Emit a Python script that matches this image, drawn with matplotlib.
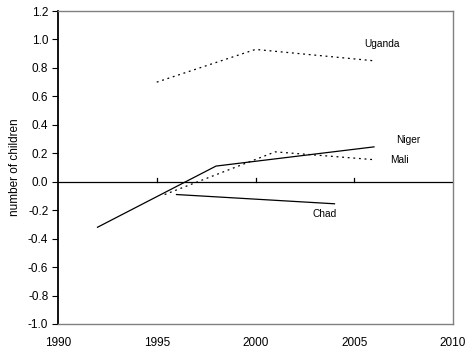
import matplotlib.pyplot as plt

plt.rcParams['font.family'] = ['Liberation Sans', 'DejaVu Sans']

uganda_x = [1995, 2000, 2006]
uganda_y = [0.70, 0.93, 0.85]
niger_x = [1992, 1998, 2006]
niger_y = [-0.32, 0.11, 0.245]
mali_x = [1995.4, 2001, 2006]
mali_y = [-0.09, 0.21, 0.155]
chad_x = [1996, 2004]
chad_y = [-0.09, -0.155]

fig = plt.figure(figsize=(4.66, 3.51), dpi=100)
ax = fig.add_axes([58 / 466, 1 - 324 / 351, 395 / 466, 313 / 351])

ax.plot(uganda_x, uganda_y, color='black', lw=0.9, ls=(0, (1.5, 3)))
ax.plot(niger_x, niger_y, color='black', lw=0.9)
ax.plot(mali_x, mali_y, color='black', lw=0.9, ls=(0, (1.5, 3)))
ax.plot(chad_x, chad_y, color='black', lw=0.9)

ax.text(2005.5, 0.97, 'Uganda', fontsize=7.3, va='center')
ax.text(2007.1, 0.29, 'Niger', fontsize=7.3, va='center')
ax.text(2006.8, 0.15, 'Mali', fontsize=7.3, va='center')
ax.text(2002.9, -0.225, 'Chad', fontsize=7.3, va='center')

# zero line with ticks pointing up
ax.axhline(0, color='black', lw=0.9)
for yr in [1995, 2000, 2005]:
    ax.plot([yr, yr], [0, 0.025], color='black', lw=0.9)

ax.set_xlim(1990, 2010)
ax.set_ylim(-1.0, 1.2)
ax.set_xticks([1990, 1995, 2000, 2005, 2010])
ax.set_yticks([x / 10 for x in range(-10, 13, 2)])
ax.set_yticklabels(['%.1f' % (x / 10) for x in range(-10, 13, 2)])
ax.tick_params(axis='x', length=0, labelsize=8.5, pad=9)
ax.tick_params(axis='y', length=4, width=0.8, labelsize=8.5, pad=3)

for s in ['top', 'right', 'bottom']:
    ax.spines[s].set_color('#808080')
    ax.spines[s].set_linewidth(1)
ax.spines['left'].set_linewidth(1.3)

ax.set_ylabel('number of children', fontsize=8.5, labelpad=5)

fig.savefig('out.png', dpi=100)
